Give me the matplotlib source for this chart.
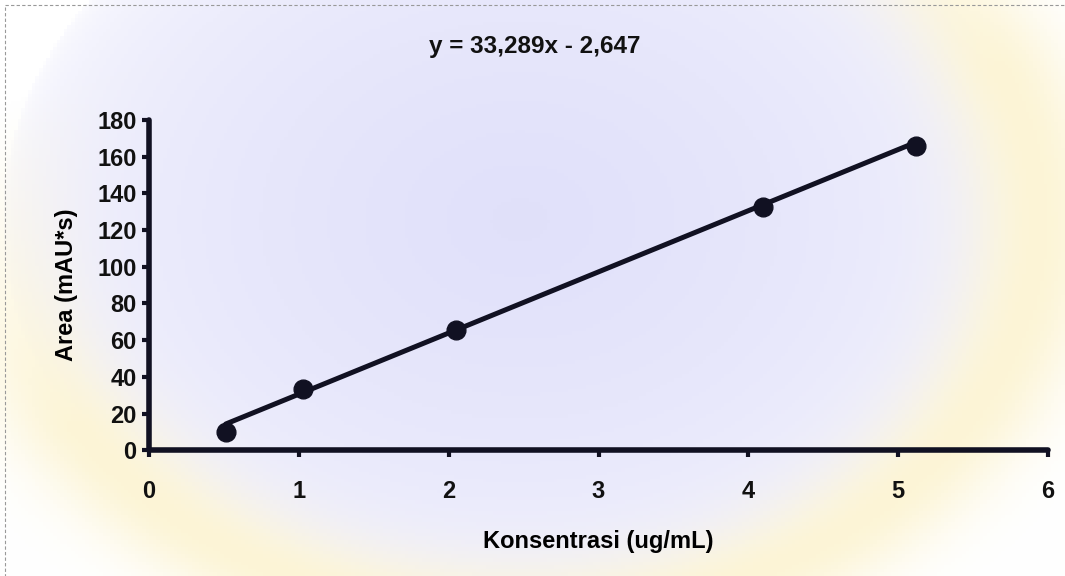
import matplotlib.pyplot as plt
from matplotlib.patches import Rectangle
import numpy as np

# calibration data
konsentrasi = [0.512, 1.024, 2.048, 4.096, 5.12]
area = [10.0, 33.5, 65.5, 132.5, 165.5]
slope, intercept = 33.289, -2.647
x_ticks = [0, 1, 2, 3, 4, 5, 6]
y_ticks = [0, 20, 40, 60, 80, 100, 120, 140, 160, 180]

plt.rcParams['font.family'] = ['Liberation Sans', 'DejaVu Sans']
plt.rcParams['font.weight'] = 'bold'

fig = plt.figure(figsize=(10.65, 5.76), dpi=100)

# soft background tint with a dashed page border
bg = fig.add_axes([0, 0, 1, 1], zorder=-1)
gx, gy = np.meshgrid(np.linspace(0, 1065, 300), np.linspace(0, 576, 160))
r = np.hypot((gx - 520) / 520, (gy - 220) / 400)
lav = np.array([0.88, 0.88, 0.98])
yel = np.array([0.99, 0.96, 0.84])
white = np.array([1.0, 1.0, 1.0])
w_in = np.clip(1.0 - r, 0, 1)[..., None] ** 0.35
w_ring = np.exp(-((r - 1.0) / 0.13) ** 2) * np.clip(gy / 350 + gx / 900 - 0.3, 0, 1)
w_ring = w_ring[..., None]
img = white * (1 - w_in) + lav * w_in
img = img * (1 - w_ring) + yel * w_ring
bg.imshow(img, extent=[0, 1065, 576, 0], aspect='auto')
bg.add_patch(Rectangle((5, 5), 1075, 590, fill=False, ec='#999999', lw=0.8, ls=(0, (3, 2))))
bg.set_xlim(0, 1065)
bg.set_ylim(576, 0)
bg.axis('off')

ax = fig.add_axes([0.14, 0.218, 0.844, 0.574])
ax.patch.set_alpha(0)

# fitted line over data range
xf = np.array([konsentrasi[0], konsentrasi[-1]])
ax.plot(xf, slope * xf + intercept, color='#111122', lw=3.6, solid_capstyle='round', zorder=2)
ax.plot(konsentrasi, area, 'o', color='#111122', ms=13.5, zorder=3, clip_on=False)

ax.set_xlim(0, 6)
ax.set_ylim(0, 180)
ax.set_xticks(x_ticks)
ax.set_yticks(y_ticks)
for s in ['top', 'right']:
    ax.spines[s].set_visible(False)
for s in ['left', 'bottom']:
    ax.spines[s].set_linewidth(4)
    ax.spines[s].set_color('#111122')
    ax.spines[s].set_capstyle('round')
ax.tick_params(axis='both', direction='out', length=5, width=3, color='#111122',
               labelsize=17, labelcolor='#111111')
ax.tick_params(axis='x', pad=16)
ax.tick_params(axis='y', pad=4)

ax.set_xlabel('Konsentrasi (ug/mL)', fontsize=17, fontweight='bold', labelpad=20)
ax.set_ylabel('Area (mAU*s)', fontsize=17, fontweight='bold', labelpad=14)
fig.text(0.502, 0.92, 'y = 33,289x - 2,647', ha='center', va='center',
         fontsize=17.5, fontweight='bold', color='#111111')

fig.savefig('out.png', dpi=100)
